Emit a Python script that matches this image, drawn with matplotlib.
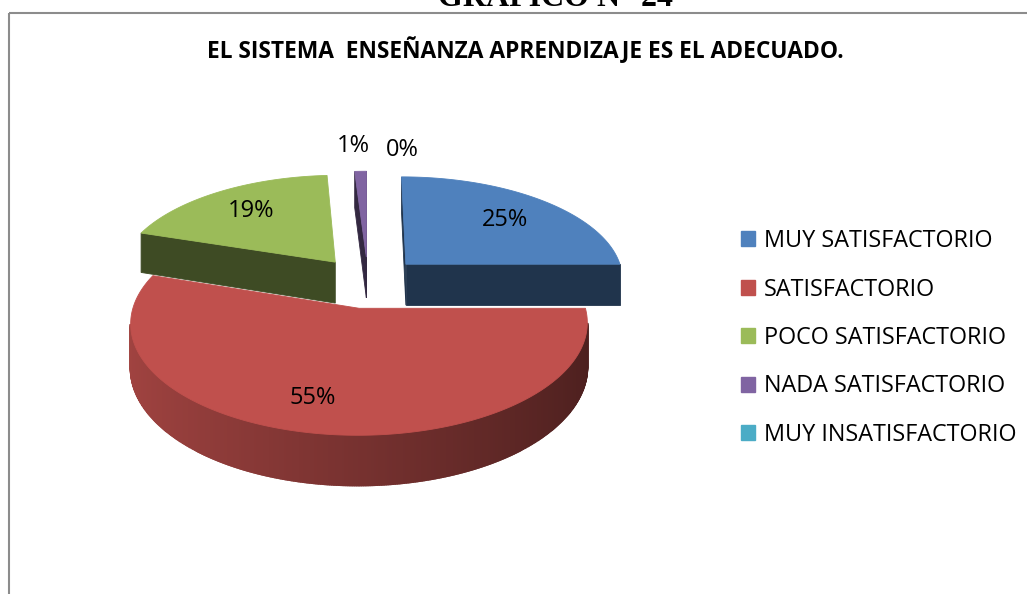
import numpy as np
import matplotlib.pyplot as plt
from matplotlib.patches import Polygon, Rectangle, Patch

# --- data ---
categories = ["MUY SATISFACTORIO", "SATISFACTORIO", "POCO SATISFACTORIO",
              "NADA SATISFACTORIO", "MUY INSATISFACTORIO"]
values = [25, 55, 19, 1, 0]
colors = ["#4F81BD", "#C0504D", "#9BBB59", "#8064A2", "#4BACC6"]

header = "GRAFICO N° 24"
title = "EL SISTEMA  ENSEÑANZA APRENDIZAJE ES EL ADECUADO."

# --- 3D pie view (pixel space) ---
CX, CY = 368, 282
RX, RY = 219, 103
PERSP = 0.13
DEPTH = 42
EXPLODE = 0.25
# label nudges in pixels (Excel best-fit placement)
label_nudge = [(0, 2), (-18, 5), (0, 0), (-6, 0), (34, 4)]

FONT = "Open Sans"


def project(u, v, z):
    w = 1 + PERSP * v
    return CX + RX * u / w, CY - RY * v / w - DEPTH * z / w


def area(pts):
    x, y = pts[:, 0], pts[:, 1]
    return 0.5 * np.sum(x * np.roll(y, -1) - np.roll(x, -1) * y)


def shade(color, f):
    rgb = np.array(plt.matplotlib.colors.to_rgb(color))
    return tuple(rgb * f)


def poly(pts3d):
    return np.array([project(*p) for p in pts3d])


ref_sign = np.sign(area(poly([(np.cos(t), np.sin(t), 0)
                              for t in np.linspace(0, 2 * np.pi, 60)])))

fig = plt.figure(figsize=(10.27, 5.94), dpi=100)
ax = fig.add_axes([0, 0, 1, 1])
ax.set_xlim(0, 1027)
ax.set_ylim(594, 0)
ax.axis("off")


def draw(pts3d, color, z, lw=0.6):
    p = poly(pts3d)
    if np.sign(area(p)) != ref_sign:
        return
    ax.add_patch(Polygon(p, closed=True, facecolor=color, edgecolor=color,
                         linewidth=lw, zorder=z))


total = sum(values)
fracs = np.array(values) / total
cum = np.concatenate([[0], np.cumsum(fracs)])
slices = []
for i, f in enumerate(fracs):
    t1 = np.radians(90 - 360 * cum[i])
    t0 = np.radians(90 - 360 * cum[i + 1])
    m = 0.5 * (t0 + t1)
    slices.append((i, t0, t1, m, EXPLODE * np.cos(m), EXPLODE * np.sin(m)))

# back to front
order = sorted(slices, key=lambda s: -s[5])
for k, (i, a, b, m, ou, ov) in enumerate(order):
    if values[i] == 0:
        continue
    z = 2 + k * 3
    base = colors[i]
    ts = np.linspace(a, b, max(4, int(np.degrees(b - a) * 2)))
    # curved outer side
    for t0, t1 in zip(ts[:-1], ts[1:]):
        tm = 0.5 * (t0 + t1)
        col = shade(base, 0.62 - 0.22 * np.cos(tm))
        draw([(ou + np.cos(t0), ov + np.sin(t0), 0),
              (ou + np.cos(t0), ov + np.sin(t0), -1),
              (ou + np.cos(t1), ov + np.sin(t1), -1),
              (ou + np.cos(t1), ov + np.sin(t1), 0)], col, z, lw=1.4)
    side = shade(base, 0.4)
    draw([(ou, ov, 0), (ou, ov, -1),
          (ou + np.cos(a), ov + np.sin(a), -1),
          (ou + np.cos(a), ov + np.sin(a), 0)], side, z + 1)
    draw([(ou + np.cos(b), ov + np.sin(b), 0),
          (ou + np.cos(b), ov + np.sin(b), -1),
          (ou, ov, -1), (ou, ov, 0)], side, z + 1)
    top = [(ou, ov, 0)] + [(ou + np.cos(t), ov + np.sin(t), 0) for t in ts]
    draw(top, base, z + 2)

# data labels
for (i, a, b, m, ou, ov) in slices:
    r = 0.71 if fracs[i] >= 0.05 else 1.35
    x, y = project(ou + r * np.cos(m), ov + r * np.sin(m), 0)
    dx, dy = label_nudge[i]
    ax.text(x + dx, y + dy, f"{fracs[i] * 100:.0f}%", ha="center",
            va="center", fontsize=17, family=FONT, color="black", zorder=50)

# chart border and titles
ax.add_patch(Rectangle((8.5, 12.5), 1100, 700, fill=False,
                       edgecolor="#8C8C8C", linewidth=1.5, zorder=60))
ax.text(556, 6, header, ha="center", va="baseline", fontsize=23,
        fontweight="bold", family="Liberation Serif", zorder=61)
ax.text(525, 51, title, ha="center", va="center", fontsize=16.4,
        fontweight="bold", family=FONT, zorder=61)

handles = [Patch(facecolor=c, edgecolor=c) for c in colors]
ax.legend(handles, categories, loc="upper left",
          bbox_to_anchor=(741, 229), bbox_transform=ax.transData,
          frameon=False, prop={"family": FONT, "size": 16.8},
          handlelength=0.6, handleheight=0.6, handletextpad=0.38,
          labelspacing=1.05, borderaxespad=0, borderpad=0)

fig.savefig("out.png", dpi=100)
